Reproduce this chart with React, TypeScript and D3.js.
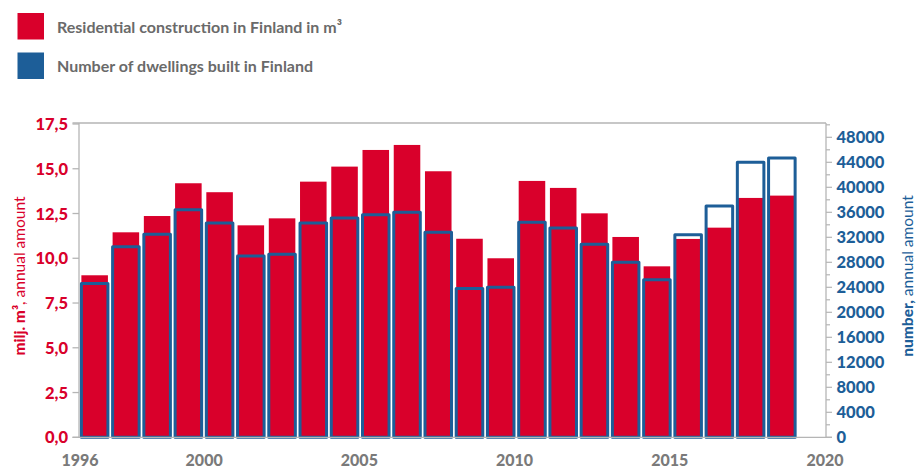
import React from "react";
import * as d3 from "d3";

const years = [1996,1997,1998,1999,2000,2001,2002,2003,2004,2005,2006,2007,2008,2009,2010,2011,2012,2013,2014,2015,2016,2017,2018];
const volume = [9.05,11.45,12.36,14.19,13.69,11.84,12.23,14.28,15.12,16.05,16.33,14.86,11.09,10.0,14.32,13.93,12.51,11.19,9.55,11.08,11.71,13.37,13.5];
const dwellings = [24600,30500,32500,36400,34300,29000,29300,34300,35100,35600,36000,32800,23800,24000,34400,33500,30900,28000,25200,32400,37000,44000,44700];
const leftTicks = [0,2.5,5,7.5,10,12.5,15,17.5];
const rightTicks = [0,4000,8000,12000,16000,20000,24000,28000,32000,36000,40000,44000,48000];
const yearTicks = [1996,2000,2005,2010,2015,2020];
const legendItems = ["Residential construction in Finland in m³","Number of dwellings built in Finland"];

const RED = "#d9002b";
const BLUE = "#1d5e98";
const GRAY = "#b5b5b5";

export default function App() {
  const left = 79, right = 826, top = 123, bottom = 437.3;
  const xYear = d3.scaleLinear().domain([1996, 2020]).range([80, 825]);
  const xBand = d3.scaleBand<number>().domain(years).range([79.5, 797]).paddingInner(0.15).paddingOuter(0.06);
  const yL = d3.scaleLinear().domain([0, 17.5]).range([bottom, 124]);
  const yR = d3.scaleLinear().domain([0, 48000]).range([bottom, 137.3]);
  const minor = d3.range(0, 50001, 2000);
  const font = "Lato, 'Open Sans', sans-serif";
  const fmtL = (v: number) => d3.format(".1f")(v).replace(".", ",");

  return (
    <svg width={917} height={468} style={{ position: "absolute", left: 0, top: 0, background: "#fff" }} fontFamily={font}>
      {/* legend */}
      {legendItems.map((t, i) => (
        <g key={t}>
          <rect x={17.5} y={13 + i * 39.5} width={26.5} height={26.5} fill={i === 0 ? RED : BLUE} />
          <text x={57} y={26 + i * 39.5} dominantBaseline="central" fontSize={16} fontWeight={700} fill="#6a6a6a">{t}</text>
        </g>
      ))}

      {/* bars */}
      {years.map((yr, i) => (
        <rect key={"r" + yr} x={xBand(yr)} width={xBand.bandwidth()} y={yL(volume[i])} height={bottom - yL(volume[i])} fill={RED} />
      ))}
      {years.map((yr, i) => (
        <rect key={"b" + yr} x={xBand(yr)} width={xBand.bandwidth()} y={yR(dwellings[i])} height={bottom - yR(dwellings[i])} fill="none" stroke={BLUE} strokeWidth={3} strokeLinejoin="round" />
      ))}

      {/* frame */}
      <line x1={72.5} x2={right} y1={top} y2={top} stroke={GRAY} strokeWidth={1.3} />
      <line x1={left} x2={left} y1={top} y2={bottom} stroke={GRAY} strokeWidth={1.3} />
      <line x1={right} x2={right} y1={top} y2={bottom} stroke={GRAY} strokeWidth={1.3} />
      <line x1={72.5} x2={832} y1={bottom} y2={bottom} stroke={GRAY} strokeWidth={1.3} />

      {/* left axis */}
      {leftTicks.map(v => (
        <g key={"l" + v}>
          <line x1={72.5} x2={left} y1={yL(v)} y2={yL(v)} stroke={GRAY} strokeWidth={1.3} />
          <text x={68} y={yL(v)} textAnchor="end" dominantBaseline="central" fontSize={16.5} fontWeight={900} fill={RED}>{fmtL(v)}</text>
        </g>
      ))}
      <text transform={`translate(25,276) rotate(-90)`} textAnchor="middle" fontSize={15.5} fill={RED}>
        <tspan fontWeight={900}>milj. m³</tspan><tspan>, annual amount</tspan>
      </text>

      {/* right axis */}
      {minor.filter(v => yR(v) >= top).map(v => (
        <line key={"m" + v} x1={right} x2={right + (v % 4000 === 0 ? 6 : 4)} y1={yR(v)} y2={yR(v)} stroke={GRAY} strokeWidth={1.2} />
      ))}
      {rightTicks.map(v => (
        <text key={"rt" + v} x={836.5} y={yR(v)} dominantBaseline="central" fontSize={16.5} fontWeight={900} fill={BLUE}>{v}</text>
      ))}
      <text transform={`translate(913,276) rotate(-90)`} textAnchor="middle" fontSize={15.5} fill={BLUE}>
        <tspan fontWeight={900}>number,</tspan><tspan> annual amount</tspan>
      </text>

      {/* x labels */}
      {yearTicks.map(y => (
        <text key={"x" + y} x={xYear(y)} y={466} textAnchor="middle" fontSize={16} fontWeight={900} fill="#7a7a7a">{y}</text>
      ))}
    </svg>
  );
}
